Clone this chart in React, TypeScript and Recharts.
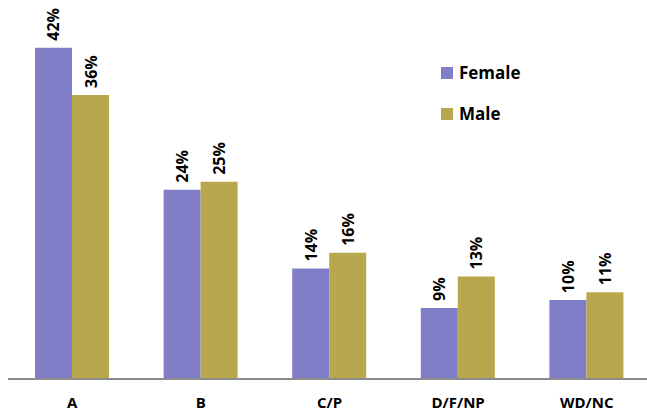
import { BarChart, Bar, XAxis, YAxis, LabelList } from 'recharts';

const categories = ['A', 'B', 'C/P', 'D/F/NP', 'WD/NC'];
const female = [42, 24, 14, 9, 10];
const male = [36, 25, 16, 13, 11];

const data = categories.map((name, i) => ({ name, female: female[i], male: male[i] }));

const FONT = '"Open Sans", "Noto Sans", sans-serif';

function RotLabel(props: any) {
  const { x, y, width, value } = props;
  const cx = x + width / 2 + 6;
  const cy = y - 7;
  return (
    <text
      x={cx}
      y={cy}
      transform={`rotate(-90 ${cx} ${cy})`}
      textAnchor="start"
      fontSize={16}
      fontWeight={700}
      fontFamily={FONT}
      fill="#000"
    >
      {value}%
    </text>
  );
}

function LegendBox() {
  const items = [
    { label: 'Female', color: '#807ec6' },
    { label: 'Male', color: '#b9a74e' },
  ];
  return (
    <div style={{ position: 'absolute', left: 441, top: 52, fontFamily: FONT }}>
      {items.map((it) => (
        <div key={it.label} style={{ display: 'flex', alignItems: 'center', height: 41 }}>
          <span style={{ width: 12, height: 12, background: it.color, marginRight: 6 }} />
          <span style={{ fontSize: 17, fontWeight: 700, color: '#000' }}>{it.label}</span>
        </div>
      ))}
    </div>
  );
}

export default function App() {
  return (
    <div style={{ position: 'absolute', left: 0, top: 0, width: 647, height: 415, overflow: 'hidden', background: '#fff' }}>
      <BarChart
        width={660}
        height={415}
        data={data}
        margin={{ top: 24, right: 9, left: 8, bottom: 0 }}
        barCategoryGap="21%"
        barGap={0}
      >
        <XAxis
          dataKey="name"
          height={36}
          axisLine={{ stroke: '#8c8c8c', strokeWidth: 2 }}
          tickLine={false}
          tick={{ fontSize: 15, fontWeight: 700, fill: '#000', fontFamily: FONT }}
          tickMargin={12}
        />
        <YAxis hide width={0} domain={[0, 45]} />
        <Bar dataKey="female" fill="#807ec6" isAnimationActive={false}>
          <LabelList dataKey="female" content={RotLabel} />
        </Bar>
        <Bar dataKey="male" fill="#b9a74e" isAnimationActive={false}>
          <LabelList dataKey="male" content={RotLabel} />
        </Bar>
      </BarChart>
      <LegendBox />
    </div>
  );
}
